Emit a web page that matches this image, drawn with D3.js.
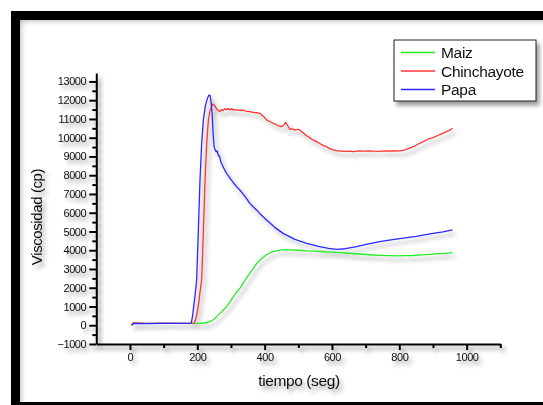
<!DOCTYPE html>
<html>
<head>
<meta charset="utf-8">
<script src="https://cdn.jsdelivr.net/npm/d3@7"></script>
<style>
body { margin:0; background:#fff; }
text { font-family: Arial, "Liberation Sans", sans-serif; }
</style>
</head>
<body>
<div id="chart"></div>
<script>
// data: [tiempo (seg), viscosidad (cp)]
var maiz = [[5,0],[10,100],[60,95],[120,100],[180,100],[205,100],[220,120],[235,180],[247,280],[260,500],[273,740],[287,990],[300,1330],[313,1680],[327,1980],[340,2350],[353,2700],[366,3020],[376,3280],[386,3470],[396,3630],[406,3760],[418,3880],[430,3950],[445,4010],[460,4030],[480,4020],[500,4000],[525,3970],[550,3950],[575,3920],[600,3900],[624,3870],[650,3840],[680,3800],[713,3760],[742,3730],[770,3710],[800,3700],[812,3710],[840,3720],[865,3750],[891,3780],[920,3820],[940,3850],[958,3870]];

var chinchayote = [[5,0],[10,120],[50,100],[100,110],[150,100],[190,110],[195,300],[200,700],[205,1300],[209,1900],[213,2410],[218,5000],[223,7750],[228,9700],[233,10950],[238,11450],[243,11700],[247,11800],[252,11700],[257,11550],[262,11450],[267,11400],[272,11500],[277,11450],[282,11550],[287,11500],[292,11550],[297,11480],[302,11550],[307,11480],[315,11500],[325,11460],[335,11470],[345,11420],[356,11390],[366,11350],[376,11330],[386,11300],[396,11150],[406,10950],[416,10850],[428,10750],[440,10650],[450,10590],[456,10650],[462,10820],[468,10650],[475,10450],[482,10470],[490,10420],[498,10450],[505,10400],[515,10250],[525,10100],[535,9980],[544,9880],[555,9780],[565,9680],[575,9580],[584,9520],[594,9420],[604,9350],[614,9310],[625,9290],[640,9270],[655,9280],[663,9260],[680,9300],[695,9280],[710,9300],[725,9280],[742,9270],[760,9300],[780,9290],[800,9300],[812,9320],[825,9400],[842,9520],[855,9650],[871,9790],[885,9920],[900,10000],[911,10090],[925,10200],[940,10320],[950,10400],[958,10500]];

var papa = [[5,0],[10,100],[50,90],[100,100],[150,95],[182,110],[186,500],[190,1100],[194,1700],[198,2400],[203,5000],[208,7750],[213,9700],[218,10950],[224,11700],[230,12100],[235,12280],[238,12250],[241,11900],[244,11300],[247,10200],[250,9500],[253,9350],[256,9250],[259,9300],[262,9080],[266,9000],[270,8700],[278,8400],[287,8100],[297,7850],[307,7600],[317,7390],[327,7200],[337,6980],[346,6770],[356,6500],[366,6320],[376,6150],[386,5950],[406,5610],[430,5220],[455,4900],[490,4580],[525,4370],[560,4200],[590,4100],[614,4050],[640,4080],[673,4190],[705,4320],[742,4460],[780,4560],[812,4640],[850,4740],[891,4870],[930,4980],[958,5080]];

var seriesNames = ["Maiz", "Chinchayote", "Papa"];
var seriesColors = ["#22ee22", "#ff3535", "#2a2aff"];
var seriesData = [maiz, chinchayote, papa];

var yTicks = d3.range(-1000, 13001, 1000);
var yMinor = d3.range(-500, 13001, 1000);
var xTicks = [0, 200, 400, 600, 800, 1000];
var xMinor = [100, 300, 500, 700, 900, 1100];

var width = 543, height = 405;

var svg = d3.select("#chart").append("svg")
  .attr("width", width)
  .attr("height", height);

var defs = svg.append("defs");
var sh = defs.append("filter").attr("id", "shadow")
  .attr("x", "-20%").attr("y", "-20%").attr("width", "150%").attr("height", "150%");
sh.append("feDropShadow")
  .attr("dx", 3).attr("dy", 4).attr("stdDeviation", 2)
  .attr("flood-color", "#000").attr("flood-opacity", 0.4);

var bl = defs.append("filter").attr("id", "blur")
  .attr("x", "-10%").attr("y", "-10%").attr("width", "120%").attr("height", "120%");
bl.append("feGaussianBlur").attr("stdDeviation", 4);

defs.append("clipPath").attr("id", "inner")
  .append("rect").attr("x", 20).attr("y", 20).attr("width", 600).attr("height", 382);

// black frame
svg.append("rect")
  .attr("x", 11).attr("y", 11).attr("width", 620).attr("height", 420)
  .attr("fill", "#000");
svg.append("rect")
  .attr("x", 20).attr("y", 20).attr("width", 600).attr("height", 382)
  .attr("fill", "#fff");
// inner shading along the left and top of the frame
svg.append("g").attr("clip-path", "url(#inner)")
  .append("rect")
  .attr("x", 12).attr("y", 12).attr("width", 800).attr("height", 600)
  .attr("fill", "none").attr("stroke", "#000").attr("stroke-width", 12)
  .attr("opacity", 0.55)
  .attr("filter", "url(#blur)");

var x = d3.scaleLinear().domain([-100, 1100]).range([96.3, 500.3]);
var y = d3.scaleLinear().domain([-1000, 13450]).range([344, 73]);

var g = svg.append("g").attr("filter", "url(#shadow)");

// lines
var line = d3.line()
  .x(function(d) { return x(d[0]); })
  .y(function(d) { return y(d[1]); });

seriesData.forEach(function(s, i) {
  g.append("path")
    .datum(s)
    .attr("fill", "none")
    .attr("stroke", seriesColors[i])
    .attr("stroke-width", 1.3)
    .attr("stroke-linejoin", "round")
    .attr("d", line);
});

// y axis
g.append("g")
  .attr("transform", "translate(" + x(-100) + ",0)")
  .call(d3.axisLeft(y).tickValues(yTicks).tickFormat(d3.format("d"))
    .tickSize(7).tickSizeOuter(0).tickPadding(3));
g.append("g")
  .attr("transform", "translate(" + x(-100) + ",0)")
  .call(d3.axisLeft(y).tickValues(yMinor).tickSize(4).tickFormat(""))
  .select(".domain").remove();

// x axis
g.append("g")
  .attr("transform", "translate(0," + y(-1000) + ")")
  .call(d3.axisBottom(x).tickValues(xTicks).tickFormat(d3.format("d"))
    .tickSize(6).tickSizeOuter(0).tickPadding(3));
g.append("g")
  .attr("transform", "translate(0," + y(-1000) + ")")
  .call(d3.axisBottom(x).tickValues(xMinor).tickSize(4).tickFormat(""))
  .select(".domain").remove();

g.selectAll(".domain").attr("stroke", "#000").attr("stroke-width", 2);
g.selectAll(".tick line").attr("stroke", "#000").attr("stroke-width", 2);
g.selectAll(".tick text")
  .attr("font-size", 11)
  .attr("fill", "#111")
  .attr("letter-spacing", -0.4)
  .style("font-family", "Arial, 'Liberation Sans', sans-serif");

// axis titles
g.append("text")
  .attr("x", 299)
  .attr("y", 386)
  .attr("text-anchor", "middle")
  .attr("font-size", 15.5)
  .attr("letter-spacing", -0.4)
  .attr("fill", "#111")
  .text("tiempo (seg)");

g.append("text")
  .attr("transform", "translate(42,217) rotate(-90)")
  .attr("text-anchor", "middle")
  .attr("font-size", 15)
  .attr("letter-spacing", -0.4)
  .attr("fill", "#111")
  .text("Viscosidad (cp)");

// legend
var leg = svg.append("g").attr("transform", "translate(394,40)");
leg.append("rect")
  .attr("width", 142).attr("height", 61)
  .attr("fill", "#fff").attr("stroke", "#222").attr("stroke-width", 1)
  .attr("filter", "url(#shadow)");
seriesNames.forEach(function(name, i) {
  var ly = 12.5 + i * 18.5;
  leg.append("line")
    .attr("x1", 7).attr("x2", 41)
    .attr("y1", ly).attr("y2", ly)
    .attr("stroke", seriesColors[i]).attr("stroke-width", 1.3);
  leg.append("text")
    .attr("x", 47).attr("y", ly + 5.5)
    .attr("font-size", 15.5)
    .attr("letter-spacing", -0.3)
    .attr("fill", "#111")
    .text(name);
});
</script>
</body>
</html>
